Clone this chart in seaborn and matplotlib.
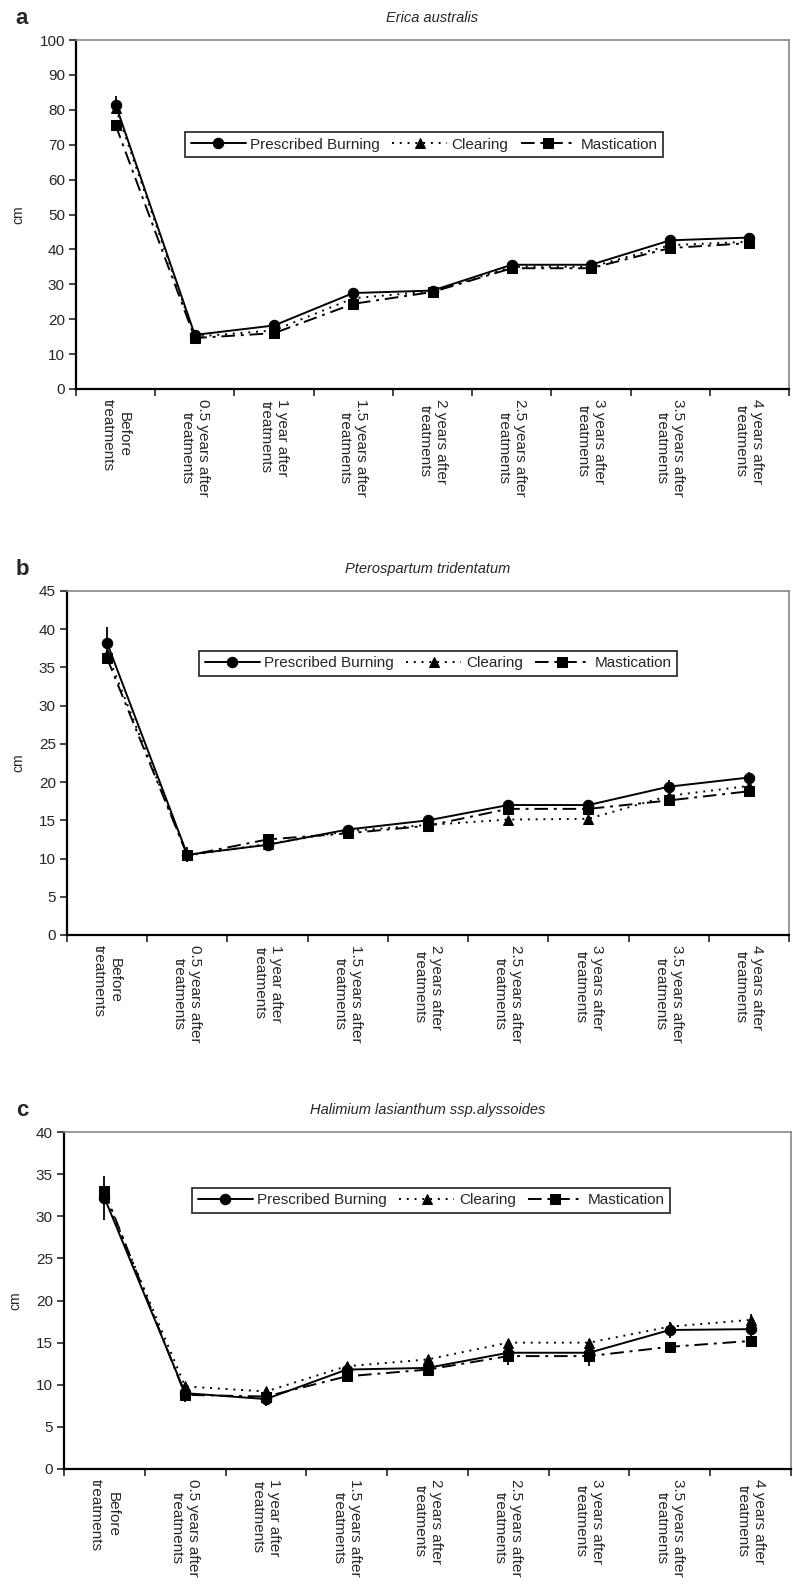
import seaborn as sns
import matplotlib.pyplot as plt
import pandas as pd

# x categories
periods = ["Before\ntreatments", "0.5 years after\ntreatments", "1 year after\ntreatments",
           "1.5 years after\ntreatments", "2 years after\ntreatments", "2.5 years after\ntreatments",
           "3 years after\ntreatments", "3.5 years after\ntreatments", "4 years after\ntreatments"]
treatments = ["Prescribed Burning", "Clearing", "Mastication"]

# a - Erica australis
erica_pb = [81.5, 15.5, 18.2, 27.5, 28.2, 35.6, 35.6, 42.6, 43.4]
erica_cl = [80.5, 15.0, 16.8, 26.0, 28.0, 35.0, 35.0, 41.2, 42.2]
erica_ma = [75.6, 14.6, 16.0, 24.4, 27.8, 34.6, 34.6, 40.4, 41.8]
erica_err = [2.5, 1.0, 1.0, 1.0, 0.5, 0.8, 0.8, 1.0, 1.0]

# b - Pterospartum tridentatum
ptero_pb = [38.2, 10.5, 11.8, 13.8, 15.0, 17.0, 17.0, 19.4, 20.6]
ptero_cl = [36.8, 10.4, 11.9, 13.6, 14.4, 15.1, 15.2, 18.2, 19.5]
ptero_ma = [36.2, 10.4, 12.5, 13.3, 14.3, 16.5, 16.5, 17.6, 18.8]
ptero_err = [2.1, 1.0, 0.8, 0.5, 0.5, 0.6, 0.6, 0.9, 0.7]

# c - Halimium lasianthum ssp. alyssoides
halim_pb = [32.2, 9.0, 8.3, 11.8, 12.0, 13.8, 13.8, 16.5, 16.6]
halim_cl = [32.6, 9.8, 9.2, 12.2, 13.0, 15.0, 15.0, 16.9, 17.7]
halim_ma = [33.0, 8.8, 8.6, 11.0, 11.8, 13.4, 13.4, 14.5, 15.2]
halim_err = [2.6, 1.0, 0.8, 0.8, 0.8, 1.5, 1.6, 1.0, 1.8]

panels = [
    ("a", "Erica australis", [erica_pb, erica_cl, erica_ma], erica_err, 100, 10,
     [76, 40, 789, 389], (0.488, 0.70)),
    ("b", "Pterospartum tridentatum", [ptero_pb, ptero_cl, ptero_ma], ptero_err, 45, 5,
     [67, 591, 789, 935], (0.514, 0.79)),
    ("c", "Halimium lasianthum ssp.alyssoides", [halim_pb, halim_cl, halim_ma], halim_err, 40, 5,
     [64, 1132, 791, 1469], (0.505, 0.797)),
]

sns.set_style("white")
plt.rcParams['font.family'] = ['Liberation Sans', 'DejaVu Sans']

W, H = 793, 1596
fig = plt.figure(figsize=(W / 100, H / 100), dpi=100)

markers = {"Prescribed Burning": "o", "Clearing": "^", "Mastication": "s"}
dashes = {"Prescribed Burning": "", "Clearing": (1, 3), "Mastication": (7, 3, 1.5, 3)}

for letter, title, series, err, ymax, ystep, box, legpos in panels:
    l, t, r, b = box
    ax = fig.add_axes([l / W, 1 - b / H, (r - l) / W, (b - t) / H])
    rows = []
    for name, vals in zip(treatments, series):
        for i, v in enumerate(vals):
            rows.append({"pos": i, "cm": v, "Treatment": name})
    df = pd.DataFrame(rows)
    sns.lineplot(data=df, x="pos", y="cm", style="Treatment", markers=markers, dashes=dashes,
                 color="black", linewidth=1.4, markersize=7.5, markeredgecolor="black",
                 ax=ax, legend=True)
    # error bars on the burning series
    ax.errorbar(range(len(periods)), series[0], yerr=err, fmt="none", ecolor="black",
                elinewidth=1.3, capsize=0)

    ax.set_xlim(-0.5, len(periods) - 0.5)
    ax.set_ylim(0, ymax)
    ax.set_yticks(range(0, ymax + 1, ystep))
    ax.set_xticks([i - 0.5 for i in range(len(periods) + 1)])
    ax.set_xticklabels([])
    ax.set_xticks(range(len(periods)), minor=True)
    ax.set_xticklabels(periods, minor=True, rotation=-90, ha="center", va="top",
                       multialignment="center", fontsize=11)
    ax.tick_params(axis="x", which="minor", length=0, pad=7)
    ax.tick_params(axis="x", which="major", length=5, width=1.2, direction="out", bottom=True)
    ax.tick_params(axis="y", length=5, width=1.2, direction="out", left=True, labelsize=11, pad=3)
    ax.set_xlabel("")
    ax.set_ylabel("cm", fontsize=10, labelpad=10)

    for side in ["left", "bottom"]:
        ax.spines[side].set_color("black")
        ax.spines[side].set_linewidth(1.6)
    for side in ["top", "right"]:
        ax.spines[side].set_color("#888888")
        ax.spines[side].set_linewidth(1.2)

    handles, labels = ax.get_legend_handles_labels()
    leg = ax.legend(handles, labels, ncol=3, loc="center", bbox_to_anchor=legpos,
                    frameon=True, fancybox=False, edgecolor="black", fontsize=11,
                    handlelength=3.6, handletextpad=0.3, columnspacing=0.8,
                    borderpad=0.35, borderaxespad=0)
    leg.get_frame().set_linewidth(1.3)

    fig.text(22 / W, 1 - (t - 22) / H, letter, fontsize=16, fontweight="bold",
             ha="center", va="center")
    fig.text(0.5 * (l + r) / W, 1 - (t - 22) / H, title, fontsize=10.5, style="italic",
             ha="center", va="center")

fig.savefig("out.png", dpi=100)
